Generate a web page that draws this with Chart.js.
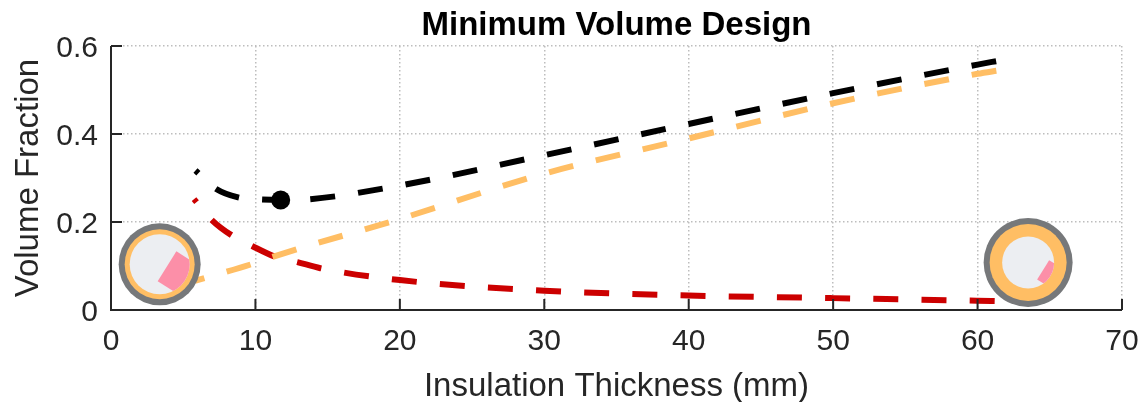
<!DOCTYPE html>
<html>
<head>
<meta charset="utf-8">
<script src="https://cdn.jsdelivr.net/npm/chart.js@4/dist/chart.umd.min.js"></script>
<style>
html, body { margin: 0; padding: 0; background: #fff; }
#wrap { width: 1141px; height: 402px; }
</style>
</head>
<body>
<div id="wrap"><canvas id="volumeChart" width="1141" height="402"></canvas></div>
<script>
const xTicks = [0, 10, 20, 30, 40, 50, 60, 70];
const yTicks = [0, 0.2, 0.4, 0.6];

const blackX = [5.85, 7.2, 8.8, 10, 11.75, 13.8, 20, 30, 40, 50, 60, 61.5];
const blackY = [0.317, 0.277, 0.256, 0.252, 0.25, 0.252, 0.283, 0.352, 0.423, 0.493, 0.558, 0.567];

const orangeX = [5.8, 10, 11.3, 20, 30, 40, 50, 60, 61.5];
const orangeY = [0.066, 0.107, 0.122, 0.207, 0.31, 0.39, 0.47, 0.537, 0.545];

const redX = [5.75, 7, 8.35, 9.8, 11.3, 12.9, 14.5, 20, 30, 40, 50, 60, 61.5];
const redY = [0.252, 0.204, 0.17, 0.145, 0.122, 0.109, 0.095, 0.068, 0.044, 0.033, 0.027, 0.021, 0.02];

const optimumX = [11.75];
const optimumY = [0.25];

const toPoints = (xs, ys) => xs.map((x, i) => ({ x: x, y: ys[i] }));

// pipe cross sections, centred in data coordinates, sizes in pixels
const insets = [
    { x: 3.37, y: 0.104, outer: 41, jacket: 35, core: 30,
      wedge: [[16.7, -13], [42, 3], [23.4, 33], [-2, 17]] },
    { x: 63.5, y: 0.108, outer: 44.5, jacket: 38.5, core: 26,
      wedge: [[21, -2.3], [38, 8.3], [26, 27.6], [9, 17]] }
];

const lineSeries = (label, data, color, offset) => ({
    label: label,
    data: data,
    borderColor: color,
    backgroundColor: color,
    borderWidth: 6,
    borderDash: [25, 23.2],
    borderDashOffset: offset,
    pointRadius: 0,
    cubicInterpolationMode: 'monotone'
});

const inwardTicks = {
    id: 'inwardTicks',
    afterDatasetsDraw(chart) {
        const { ctx, chartArea, scales } = chart;
        ctx.save();
        ctx.strokeStyle = '#262626';
        ctx.lineWidth = 2;
        ctx.beginPath();
        ctx.moveTo(chartArea.left, chartArea.top);
        ctx.lineTo(chartArea.left, chartArea.bottom);
        ctx.lineTo(chartArea.right, chartArea.bottom);
        xTicks.forEach(t => {
            const px = scales.x.getPixelForValue(t);
            ctx.moveTo(px, chartArea.bottom);
            ctx.lineTo(px, chartArea.bottom - 11);
        });
        yTicks.forEach(t => {
            const py = scales.y.getPixelForValue(t);
            ctx.moveTo(chartArea.left, py);
            ctx.lineTo(chartArea.left + 11, py);
        });
        ctx.stroke();
        ctx.restore();
    }
};

const pipeInsets = {
    id: 'pipeInsets',
    afterDatasetsDraw(chart) {
        const { ctx, scales } = chart;
        insets.forEach(p => {
            const cx = scales.x.getPixelForValue(p.x);
            const cy = scales.y.getPixelForValue(p.y);
            const disc = (r, color) => {
                ctx.fillStyle = color;
                ctx.beginPath();
                ctx.arc(cx, cy, r, 0, Math.PI * 2);
                ctx.fill();
            };
            ctx.save();
            disc(p.outer, '#76787a');
            disc(p.jacket, '#ffbe64');
            disc(p.core, '#eceef2');
            ctx.beginPath();
            ctx.arc(cx, cy, p.core, 0, Math.PI * 2);
            ctx.clip();
            ctx.fillStyle = '#fc8fa8';
            ctx.beginPath();
            p.wedge.forEach((c, i) => {
                if (i === 0) ctx.moveTo(cx + c[0], cy + c[1]);
                else ctx.lineTo(cx + c[0], cy + c[1]);
            });
            ctx.closePath();
            ctx.fill();
            ctx.restore();
        });
    }
};

Chart.defaults.font.family = '"Liberation Sans", Arial, sans-serif';
Chart.defaults.color = '#262626';

const ctx = document.getElementById('volumeChart').getContext('2d');
const volumeChart = new Chart(ctx, {
    type: 'line',
    data: {
        datasets: [
            lineSeries('Total', toPoints(blackX, blackY), '#000000', 21),
            lineSeries('Insulation', toPoints(orangeX, orangeY), '#ffbe64', 15),
            lineSeries('Coil', toPoints(redX, redY), '#cc0000', 21),
            {
                label: 'Optimum',
                data: toPoints(optimumX, optimumY),
                showLine: false,
                pointRadius: 9.5,
                pointBackgroundColor: '#000000',
                pointBorderWidth: 0
            }
        ]
    },
    options: {
        responsive: false,
        animation: false,
        layout: { padding: { left: 0, right: 19, top: 0, bottom: 0 } },
        plugins: {
            legend: { display: false },
            tooltip: { enabled: false },
            title: {
                display: true,
                text: 'Minimum Volume Design',
                color: '#000000',
                fullSize: false,
                font: { size: 33, weight: 'bold' },
                padding: { top: 6, bottom: 0.5 }
            }
        },
        scales: {
            x: {
                type: 'linear',
                min: 0,
                max: 70,
                afterBuildTicks: scale => { scale.ticks = xTicks.map(v => ({ value: v })); },
                afterFit: scale => { scale.height = 92; scale.paddingLeft = 0; scale.paddingRight = 0; },
                border: { display: false, dash: [1.5, 2.5] },
                grid: { color: '#bdbdbd', lineWidth: 1.5, drawTicks: false },
                ticks: { font: { size: 30 }, padding: 14, maxRotation: 0 },
                title: { display: true, text: 'Insulation Thickness (mm)', font: { size: 33 }, padding: { top: 8, bottom: -5 } }
            },
            y: {
                min: 0,
                max: 0.6,
                afterBuildTicks: scale => { scale.ticks = yTicks.map(v => ({ value: v })); },
                afterFit: scale => { scale.width = 111; scale.paddingTop = 0; scale.paddingBottom = 0; },
                border: { display: false, dash: [1.5, 2.5] },
                grid: { color: '#bdbdbd', lineWidth: 1.5, drawTicks: false },
                ticks: { font: { size: 30 }, padding: 13, labelOffset: 2.5, callback: v => v === 0 ? '0' : v.toFixed(1) },
                title: { display: true, text: 'Volume Fraction', font: { size: 33 }, padding: { top: 9, bottom: 0 } }
            }
        }
    },
    plugins: [inwardTicks, pipeInsets]
});
</script>
</body>
</html>
